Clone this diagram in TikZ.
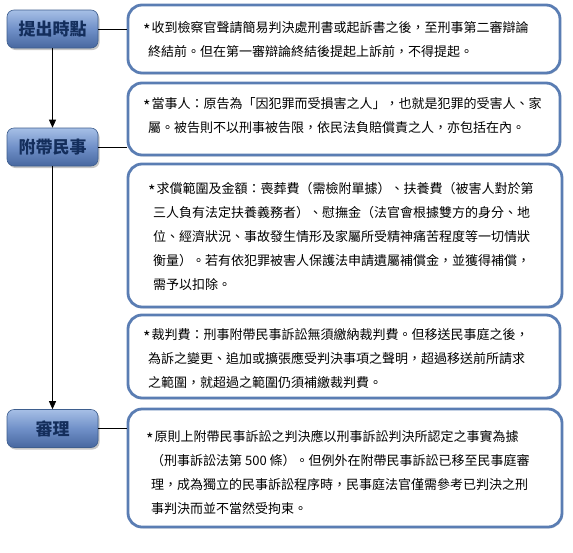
\documentclass[tikz,border=0pt]{standalone}
\usepackage{fontspec}
\setmainfont{Noto Sans CJK TC}
\usetikzlibrary{arrows.meta,shadows}
\definecolor{rboxline}{HTML}{5A7DB3}
\definecolor{labtop}{HTML}{A6BFE6}
\definecolor{labmid}{HTML}{7090C8}
\definecolor{labbot}{HTML}{4868A0}
\definecolor{labline}{HTML}{3E5E8E}
\definecolor{labtext}{HTML}{142E5C}
\tikzset{
  rbox/.style={draw=rboxline, line width=2.8pt, rounded corners=14pt, fill=white,
    drop shadow={opacity=0.25, shadow xshift=1pt, shadow yshift=-1.5pt}},
  labbox/.style={draw=labline, line width=0.6pt, rounded corners=7pt,
    top color=labtop, bottom color=labbot, middle color=labmid,
    minimum width=91pt, minimum height=38pt, inner sep=0pt,
    drop shadow={opacity=0.45, shadow xshift=1.5pt, shadow yshift=-2pt},
    font=\fontsize{17}{19}\selectfont\bfseries, text=labtext},
  bodytext/.style={anchor=west, align=left, inner sep=0pt,
    font=\fontsize{13}{24}\selectfont, text=black},
  conn/.style={line width=0.8pt, draw=black},
  arr/.style={line width=0.8pt, draw=black, -{Triangle[width=7pt,length=8pt]}}
}
\newcommand{\ind}{\hspace*{5pt}}
\newcommand{\myast}{\raisebox{-4pt}{\fontsize{16}{16}\selectfont *}\hspace{1pt}}
\begin{document}
\begin{tikzpicture}[x=1pt,y=-1pt]
\useasboundingbox (0,0) rectangle (573,552);
% right boxes
\node[rbox, minimum width=432pt, minimum height=68pt] (b1) at (344,39) {};
\node[rbox, minimum width=432pt, minimum height=72pt] (b2) at (344,119) {};
\node[rbox, minimum width=434pt, minimum height=143pt] (b3) at (345,235.5) {};
\node[rbox, minimum width=432pt, minimum height=83pt] (b4) at (344,356.5) {};
\node[rbox, minimum width=434pt, minimum height=118pt] (b5) at (345,468) {};
% texts
\node[bodytext] (t1) at (143,39.5) {\myast 收到檢察官聲請簡易判決處刑書或起訴書之後，至刑事第二審辯論\\\ind 終結前。但在第一審辯論終結後提起上訴前，不得提起。};
\node[bodytext] (t2) at (143,115.5) {\myast 當事人：原告為「因犯罪而受損害之人」，也就是犯罪的受害人、家\\\ind 屬。被告則不以刑事被告限，依民法負賠償責之人，亦包括在內。};
\node[bodytext] (t3) at (148,236) {\myast 求償範圍及金額：喪葬費（需檢附單據）、扶養費（被害人對於第\\\ind 三人負有法定扶養義務者）、慰撫金（法官會根據雙方的身分、地\\\ind 位、經濟狀況、事故發生情形及家屬所受精神痛苦程度等一切情狀\\\ind 衡量）。若有依犯罪被害人保護法申請遺屬補償金，並獲得補償，\\\ind 需予以扣除。};
\node[bodytext] (t4) at (143,359) {\myast 裁判費：刑事附帶民事訴訟無須繳納裁判費。但移送民事庭之後，\\\ind 為訴之變更、追加或擴張應受判決事項之聲明，超過移送前所請求\\\ind 之範圍，就超過之範圍仍須補繳裁判費。};
\node[bodytext] (t5) at (146,472) {\myast 原則上附帶民事訴訟之判決應以刑事訴訟判決所認定之事實為據\\\ind （刑事訴訟法第 500 條）。但例外在附帶民事訴訟已移至民事庭審\\\ind 理，成為獨立的民事訴訟程序時，民事庭法官僅需參考已判決之刑\\\ind 事判決而並不當然受拘束。};
% left labels
\node[labbox] (l1) at (52.5,29) {提出時點};
\node[labbox] (l2) at (52.5,147) {附帶民事};
\node[labbox] (l3) at (52.5,428.5) {審理};
% connectors
\draw[conn] (l1.east) -- (l1.east -| b1.west);
\draw[conn] (l2.east) -- (l2.east -| b2.west);
\draw[conn] (l3.east) -- (l3.east -| b5.west);
\draw[arr] (l1.south) -- (l2.north);
\draw[arr] (l2.south) -- (l3.north);
\end{tikzpicture}
\end{document}
